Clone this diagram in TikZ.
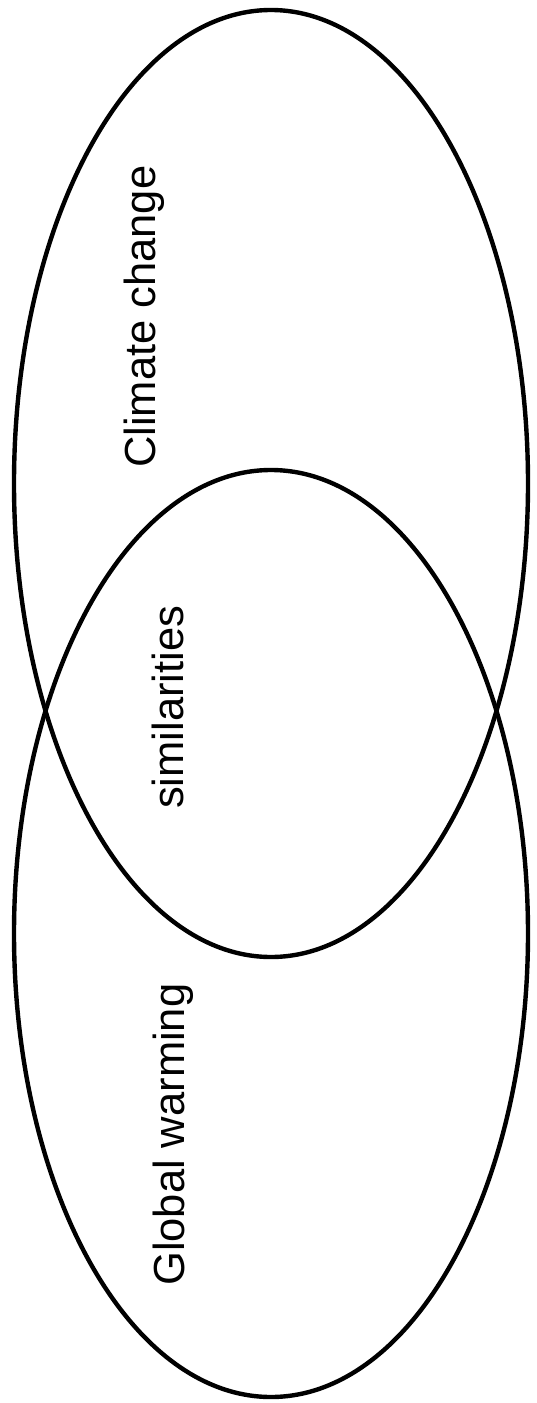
\documentclass[tikz,border=0pt]{standalone}
\usepackage{fontspec}
\setmainfont{Liberation Sans}
\begin{document}
\begin{tikzpicture}[x=1pt,y=-1pt,
  venn/.style={draw=black,line width=4.4pt},
  lbl/.style={rotate=90,anchor=base west,inner sep=0pt,font=\fontsize{43.5}{50}\selectfont}]
\useasboundingbox (0,0) rectangle (536,1403);
\draw[venn] (271,483.5) ellipse [x radius=257, y radius=473.5];
\draw[venn] (271,933.5) ellipse [x radius=257, y radius=463.5];
\node[lbl] (cc) at (155,468) {Climate change};
\node[lbl] (sim) at (183,809) {similarities};
\node[lbl] (gw) at (184,1286) {Global warming};
\end{tikzpicture}
\end{document}
